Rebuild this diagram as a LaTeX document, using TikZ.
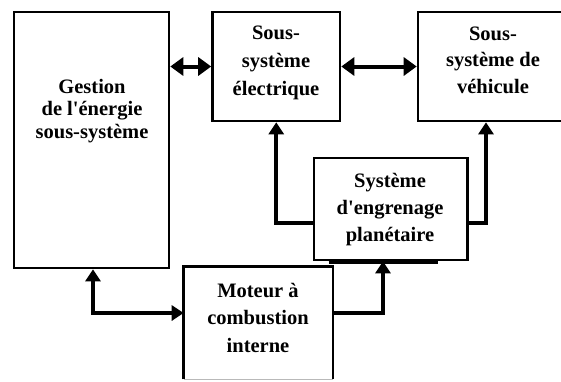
\documentclass[tikz,border=0pt]{standalone}
\usepackage{fontspec}
\newfontfamily\dfont{Liberation Serif}
\usetikzlibrary{arrows.meta,calc}
\newcommand\dlines[2]{\vtop{\baselineskip=#1\lineskiplimit=-100pt\relax\halign{\hfil##\hfil\cr #2\crcr}}}
\tikzset{
  box/.style={draw, line width=2.6pt, inner sep=0pt},
  boxnd/.style={line width=2.6pt, inner sep=0pt},
  edge/.style={line width=2.6pt},
  lbl/.style={anchor=base, inner sep=0pt, font={\dfont\bfseries\fontsize{20.5pt}{24pt}\selectfont}},
  arr/.style={line width=4pt, -{Triangle[length=12pt,width=15pt]}},
  darr/.style={line width=4pt, {Triangle[length=13pt,width=18pt]}-{Triangle[length=13pt,width=18pt]}},
  darrb/.style={line width=4pt, {Triangle[length=12pt,width=15pt]}-{Triangle[length=12pt,width=15pt]}}
}
\begin{document}
\begin{tikzpicture}[x=1pt,y=-1pt]
\useasboundingbox (0,0) rectangle (561,381);
\clip (0,0) rectangle (561,381);
% boxes
\node[box, minimum width=155pt, minimum height=256pt] (gest) at (91.5,140) {};
\node[box, minimum width=127.5pt, minimum height=109pt] (elec) at (276.25,66.5) {};
\node[box, minimum width=150pt, minimum height=109pt] (veh) at (493,66.5) {};
\node[box, minimum width=153.5pt, minimum height=102pt] (plan) at (390.75,209) {};
\node[boxnd, minimum width=146.5pt, minimum height=112pt] (mot) at (258.25,324) {};
\draw[gray!55, line width=1.5pt] ($(mot.south west)+(0,-2)$) -- ($(mot.south east)+(0,-2)$);
\draw[edge] ($(mot.south west)+(0,-2)$) -- (mot.north west) -- (mot.north east) -- ($(mot.south east)+(0,-2)$);
% extra thick strokes
\draw[line width=3pt] ($(plan.south west)+(16,1.5)$) -- ($(plan.south east)+(-30.5,1.5)$);
\draw[line width=2pt] ($(mot.north west)+(5,-1)$) -- ($(mot.north east)+(-22.5,-1)$);
% texts
\node[lbl] (gestT) at (92,93) {\dlines{22.8pt}{Gestion\cr de l'énergie\cr sous-système}};
\node[lbl] (elecT) at (276,39.5) {\dlines{27.8pt}{Sous-\cr système\cr électrique}};
\node[lbl] (vehT) at (493,40) {\dlines{26.5pt}{Sous-\cr système de\cr véhicule}};
\node[lbl] (planT) at (390,187) {\dlines{27pt}{Système\cr d'engrenage\cr planétaire}};
\node[lbl] (motT) at (258,297) {\dlines{27.5pt}{Moteur à\cr combustion\cr interne}};
% connectors
\draw[darr] (gest.east |- elec.west) -- (elec.west);
\draw[darr] (elec.east) -- (veh.west);
\coordinate (pl) at (277.5,222.5);
\coordinate (pr) at (486,222.5);
\draw[arr] (plan.west |- pl) -| (elec.south);
\draw[arr] (plan.east |- pr) -| (pr |- veh.south);
\coordinate (gm) at (93,313);
\draw[darrb] (gm |- gest.south) |- (mot.west |- gm);
\coordinate (mp) at (383,313);
\draw[arr] (mot.east |- mp) -| (mp |- plan.south);
\end{tikzpicture}
\end{document}
